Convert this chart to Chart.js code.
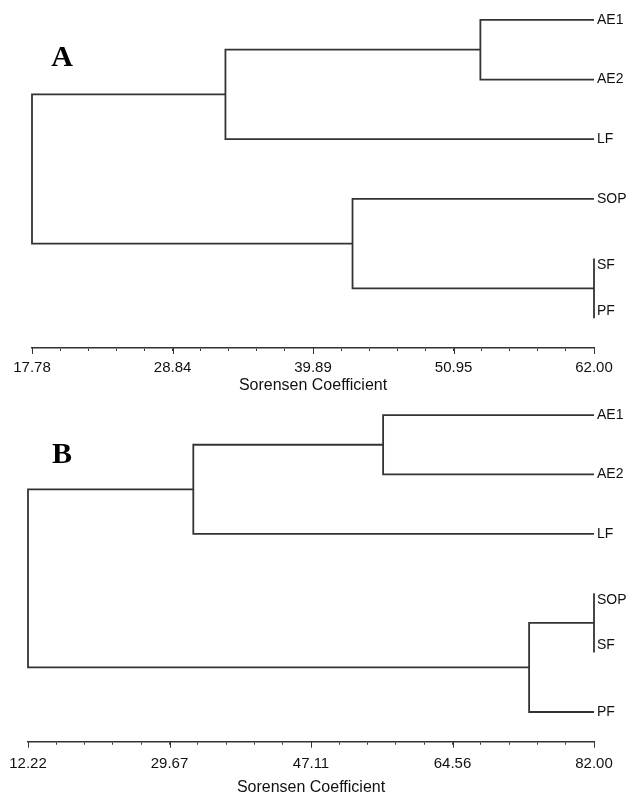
<!DOCTYPE html>
<html>
<head>
<meta charset="utf-8">
<script src="https://cdn.jsdelivr.net/npm/chart.js@4.4.0/dist/chart.umd.min.js"></script>
<style>
html, body { margin: 0; padding: 0; background: #fff; }
canvas { display: block; }
</style>
</head>
<body>
<canvas id="graficoA" width="633" height="400"></canvas>
<canvas id="graficoB" width="633" height="397"></canvas>
<script>
// folhas de cima para baixo
const leavesA = ['AE1', 'AE2', 'LF', 'SOP', 'SF', 'PF'];
// [no esquerdo, no direito, similaridade] - ids >= 6 sao fusoes anteriores
const mergesA = [[4, 5, 62.00], [0, 1, 53.06], [7, 2, 33.0], [3, 6, 43.0], [8, 9, 17.78]];
const ticksA = [17.78, 28.84, 39.89, 50.95, 62.00];

const leavesB = ['AE1', 'AE2', 'LF', 'SOP', 'SF', 'PF'];
const mergesB = [[3, 4, 82.00], [0, 1, 56.0], [6, 5, 74.0], [7, 2, 32.6], [9, 8, 12.22]];
const ticksB = [12.22, 29.67, 47.11, 64.56, 82.00];

const axisTitle = 'Sorensen Coefficient';
const corLinha = '#333333';
const corTexto = '#111111';
const fonte = "'Liberation Sans', Arial, sans-serif";

function montarRamos(leaves, merges, xmax) {
    const pos = leaves.map((_, i) => ({ x: xmax, y: i }));
    return merges.map(([l, r, h]) => {
        const a = pos[l], b = pos[r];
        pos.push({ x: h, y: (a.y + b.y) / 2 });
        return {
            data: [{ x: a.x, y: a.y }, { x: h, y: a.y }, { x: h, y: b.y }, { x: b.x, y: b.y }],
            showLine: true,
            borderColor: corLinha,
            borderWidth: 1.8,
            pointRadius: 0,
            tension: 0,
            clip: false
        };
    });
}

function todosTicks(major) {
    const out = [];
    for (let i = 0; i < major.length - 1; i++) {
        const passo = (major[i + 1] - major[i]) / 5;
        for (let j = 0; j < 5; j++) out.push(major[i] + passo * j);
    }
    out.push(major[major.length - 1]);
    return out;
}

const pluginDendro = {
    id: 'dendro',
    afterDraw(chart, args, opts) {
        const { ctx, chartArea, scales: { x, y } } = chart;
        ctx.save();
        // ticks maiores
        ctx.strokeStyle = corLinha;
        ctx.lineWidth = 1;
        opts.major.forEach(v => {
            const px = Math.round(x.getPixelForValue(v)) + 0.5;
            ctx.beginPath();
            ctx.moveTo(px, chartArea.bottom);
            ctx.lineTo(px, chartArea.bottom + 6);
            ctx.stroke();
        });
        // nomes das folhas
        const xmax = opts.major[opts.major.length - 1];
        const juntas = opts.merges.filter(m => m[2] === xmax && m[0] < opts.leaves.length && m[1] < opts.leaves.length);
        ctx.fillStyle = corTexto;
        ctx.font = '14px ' + fonte;
        ctx.textBaseline = 'middle';
        ctx.textAlign = 'left';
        opts.leaves.forEach((nome, i) => {
            let dy = 0;
            juntas.forEach(m => {
                if (Math.min(m[0], m[1]) === i) dy = 7;
                if (Math.max(m[0], m[1]) === i) dy = -7;
            });
            ctx.fillText(nome, x.getPixelForValue(xmax) + 3, y.getPixelForValue(i) + dy);
        });
        // letra do painel
        ctx.font = "bold 30px 'Liberation Serif', 'Times New Roman', serif";
        ctx.textAlign = 'center';
        ctx.fillStyle = '#000';
        ctx.fillText(opts.letra, 62, opts.letraY);
        ctx.restore();
    }
};

function criarDendrograma(id, leaves, merges, major, cfg) {
    const ticks = todosTicks(major);
    const ctx = document.getElementById(id).getContext('2d');
    new Chart(ctx, {
        type: 'scatter',
        data: { datasets: montarRamos(leaves, merges, major[major.length - 1]) },
        options: {
            responsive: false,
            animation: false,
            devicePixelRatio: 1,
            layout: { padding: cfg.padding },
            plugins: {
                legend: { display: false },
                tooltip: { enabled: false },
                dendro: { major, leaves, merges, letra: cfg.letra, letraY: cfg.letraY }
            },
            scales: {
                x: {
                    type: 'linear',
                    min: major[0],
                    max: major[major.length - 1],
                    afterBuildTicks: s => { s.ticks = ticks.map(v => ({ value: v })); },
                    afterFit: s => { s.height = cfg.axisH; s.paddingLeft = 0; s.paddingRight = 0; },
                    grid: { drawOnChartArea: false, drawTicks: true, tickLength: 3, tickColor: corLinha, tickWidth: 1 },
                    border: { display: true, color: corLinha, width: 1.6 },
                    ticks: {
                        autoSkip: false,
                        maxRotation: 0,
                        padding: cfg.tickPad,
                        color: corTexto,
                        font: { family: fonte, size: 15 },
                        callback: (v, i) => (i % 5 === 0 ? major[i / 5].toFixed(2) : '')
                    },
                    title: {
                        display: true,
                        text: axisTitle,
                        color: corTexto,
                        font: { family: fonte, size: 16 },
                        padding: { top: 0, bottom: 0 }
                    }
                },
                y: {
                    type: 'linear',
                    display: false,
                    reverse: true,
                    min: cfg.ymin,
                    max: leaves.length - 0.5
                }
            }
        },
        plugins: [pluginDendro]
    });
}

criarDendrograma('graficoA', leavesA, mergesA, ticksA, {
    padding: { left: 32, right: 39, top: 2, bottom: 5 },
    axisH: 47, tickPad: 8,
    ymin: -0.3, letra: 'A', letraY: 58
});
criarDendrograma('graficoB', leavesB, mergesB, ticksB, {
    padding: { left: 28, right: 39, top: 2, bottom: 0 },
    axisH: 55.3, tickPad: 10.5,
    ymin: -0.22, letra: 'B', letraY: 55
});
</script>
</body>
</html>
